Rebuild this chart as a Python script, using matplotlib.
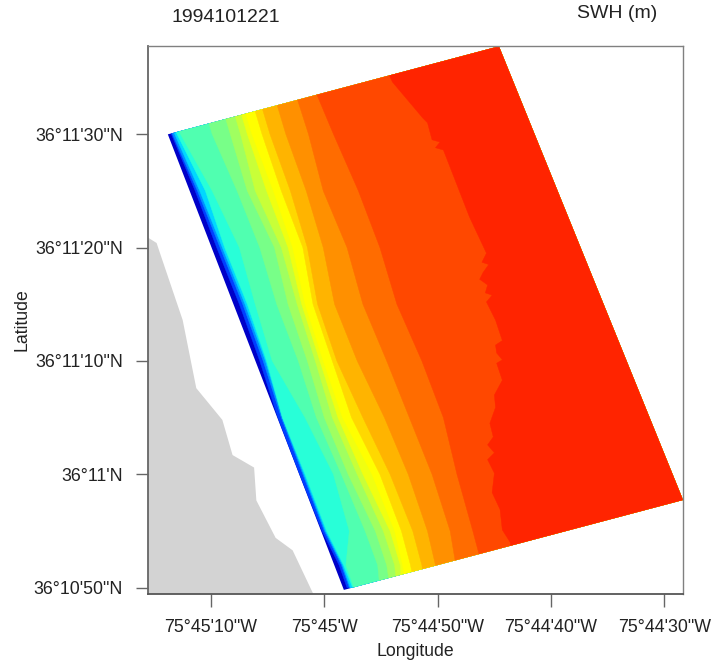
#!/usr/bin/env python
# coding: utf-8

import matplotlib
matplotlib.use('Agg')
import matplotlib.pyplot as plt
from matplotlib.patches import Polygon

plt.rcParams['font.family'] = ['Liberation Sans', 'DejaVu Sans']

# all positions are arcseconds: lon = seconds west of 75W, lat = seconds north of 36N
xlim = (2715.56, 2668.36)
ylim = (649.45, 697.77)

lon_ticks = [2710, 2700, 2690, 2680, 2670]
lon_labels = ['75°45\'10"W', '75°45\'W', '75°44\'50"W', '75°44\'40"W', '75°44\'30"W']
lat_ticks = [650, 660, 670, 680, 690]
lat_labels = ['36°10\'50"N', '36°11\'N', '36°11\'10"N', '36°11\'20"N', '36°11\'30"N']

# model domain corners
domain_lon = [2713.81, 2684.60, 2668.36, 2698.28]
domain_lat = [689.98, 697.74, 657.74, 649.81]

# land outline
land_lon = [2715.6, 2714.8, 2714.5, 2712.5, 2711.3, 2709.0, 2708.1, 2706.2, 2706.0, 2704.3, 2702.8, 2701.0]
land_lat = [680.9, 680.4, 679.5, 673.6, 667.6, 664.8, 661.7, 660.6, 657.7, 654.4, 653.3, 649.5]

# SWH contour lines: longitude where each level is crossed, on these latitudes
contour_lat = [650, 652, 655, 660, 665, 670, 675, 680, 685, 690, 695, 698]
c01 = [2698.0, 2698.7, 2700.2, 2702.2, 2704.1, 2705.7, 2707.5, 2709.5, 2711.4, 2713.5, 2715.5, 2716.7]
c02 = [2697.8, 2698.5, 2700.0, 2701.9, 2703.8, 2705.4, 2707.2, 2709.2, 2711.2, 2713.4, 2715.3, 2716.5]
c03 = [2697.7, 2698.4, 2699.9, 2701.8, 2703.7, 2705.2, 2707.0, 2709.0, 2711.0, 2713.2, 2715.1, 2716.4]
c04 = [2697.5, 2698.3, 2699.8, 2701.7, 2703.7, 2705.1, 2706.8, 2708.8, 2710.5, 2713.0, 2715.0, 2716.2]
c05 = [2697.4, 2698.1, 2697.8, 2699.2, 2701.7, 2704.6, 2706.1, 2707.5, 2709.9, 2712.7, 2714.6, 2715.8]
c06 = [2695.1, 2695.3, 2696.4, 2698.5, 2700.7, 2702.3, 2704.2, 2705.7, 2707.7, 2709.9, 2711.4, 2712.3]
c07 = [2694.2, 2694.5, 2695.5, 2697.9, 2700.0, 2701.5, 2703.2, 2704.4, 2706.8, 2708.3, 2709.8, 2710.7]
c08 = [2693.6, 2693.8, 2694.8, 2697.1, 2699.3, 2700.8, 2702.4, 2703.8, 2706.1, 2707.4, 2708.9, 2709.8]
c09 = [2693.2, 2693.3, 2694.2, 2696.6, 2698.8, 2700.4, 2702.0, 2703.2, 2705.1, 2706.8, 2708.3, 2709.1]
c10 = [2692.8, 2693.1, 2693.8, 2695.8, 2698.4, 2700.1, 2701.7, 2702.8, 2704.5, 2706.4, 2707.9, 2708.8]
c11 = [2692.0, 2692.4, 2693.2, 2695.1, 2697.6, 2699.3, 2701.0, 2701.9, 2703.8, 2705.5, 2707.0, 2707.9]
c12 = [2691.1, 2691.4, 2692.2, 2694.2, 2696.6, 2698.9, 2700.6, 2701.5, 2703.0, 2704.8, 2706.3, 2707.2]
c13 = [2690.0, 2690.2, 2690.9, 2692.6, 2694.7, 2697.1, 2699.1, 2700.1, 2701.6, 2703.4, 2704.9, 2705.8]
c14 = [2688.2, 2688.4, 2688.9, 2690.5, 2692.5, 2694.5, 2696.6, 2698.0, 2700.1, 2701.4, 2703.0, 2703.9]
c15 = [2685.8, 2686.1, 2686.9, 2688.3, 2689.5, 2691.4, 2693.6, 2695.1, 2697.0, 2699.2, 2701.3, 2702.2]
contours = [c01, c02, c03, c04, c05, c06, c07, c08, c09, c10, c11, c12, c13, c14, c15]

# the last contour is read in more detail, it has its own latitudes
c16 = [2683.2, 2683.6, 2684.3, 2684.5, 2685.2, 2685.0, 2685.6, 2685.0, 2685.6, 2685.1, 2685.4, 2684.9, 2685.0,
       2684.3, 2684.8, 2684.3, 2684.8, 2684.9, 2684.3, 2684.6, 2684.9, 2685.7, 2685.2, 2685.8, 2685.6, 2686.3,
       2686.0, 2685.5, 2686.1, 2685.7, 2687.2, 2689.5, 2690.2, 2689.8, 2690.5, 2690.9, 2691.3, 2694.0, 2695.5]
c16_lat = [650.0, 654.0, 655.1, 656.9, 658.4, 660.1, 661.3, 661.9, 662.6, 663.3, 664.5, 665.9, 667.0,
           668.3, 669.8, 670.1, 670.7, 671.4, 671.8, 672.7, 673.6, 675.2, 675.8, 676.0, 676.7, 677.2,
           677.8, 678.5, 678.7, 679.5, 682.7, 688.6, 688.8, 689.3, 689.5, 691.0, 691.4, 694.6, 698.0]

band_colors = ['#0000c8', '#0040ff', '#0090ff', '#00d8ff', '#28ffd8', '#50ffb0', '#78ff88', '#a0ff60', '#c8ff38',
               '#f0ff10', '#ffff00', '#ffd800', '#ffb400', '#ff9000', '#ff6c00', '#ff4800', '#ff2400']

fig = plt.figure(figsize=(7.15, 6.61), dpi=100)
ax = fig.add_axes([148 / 715, 1 - 594 / 661, 535 / 715, 548 / 661])

ax.fill(land_lon + [xlim[0]], land_lat + [ylim[0]], color='#d3d3d3', lw=0, zorder=1)

# paint from low to high, every band runs east of its contour and is cut by the domain
domain = Polygon(list(zip(domain_lon, domain_lat)), closed=True, transform=ax.transData,
                 facecolor=band_colors[0], edgecolor='none', zorder=2)
ax.add_patch(domain)
lines = [(c, contour_lat) for c in contours] + [(c16, c16_lat)]
for i, (c, lat) in enumerate(lines):
    band = ax.fill(c + [xlim[1] - 5, xlim[1] - 5], lat + [lat[-1], lat[0]],
                   color=band_colors[i + 1], lw=0.3, zorder=3 + i)[0]
    band.set_clip_path(domain)

ax.set_xlim(xlim)
ax.set_ylim(ylim)
ax.set_xticks(lon_ticks)
ax.set_xticklabels(lon_labels, fontsize=12.8, color='#222222')
ax.set_yticks(lat_ticks)
ax.set_yticklabels(lat_labels, fontsize=12.8, color='#222222')
ax.tick_params(length=9, width=1, color='#666666')
ax.tick_params(axis='x', pad=9)
ax.tick_params(axis='y', pad=9)
for s in ax.spines.values():
    s.set_color('#808080')
    s.set_linewidth(1)
    s.set_zorder(30)
ax.spines['left'].set_color('#666666')
ax.spines['left'].set_linewidth(1.3)
ax.spines['bottom'].set_color('#555555')
ax.spines['bottom'].set_linewidth(1.3)

fig.text(415 / 715, 1 - 651 / 661, 'Longitude', ha='center', va='center', fontsize=12.7, color='#222222')
fig.text(22 / 715, 1 - 320 / 661, 'Latitude', ha='center', va='center', rotation=90, fontsize=12.7, color='#222222')
fig.text(226 / 715, 1 - 18 / 661, '1994101221', ha='center', va='center', fontsize=14, color='#222222')
fig.text(617 / 715, 1 - 14 / 661, 'SWH (m)', ha='center', va='center', fontsize=14, color='#222222')

fig.savefig('out.png', dpi=100)
